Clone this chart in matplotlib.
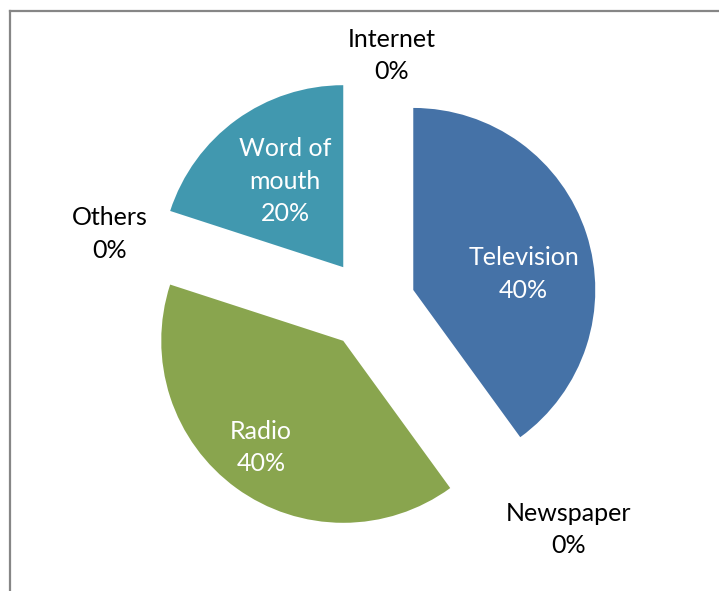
import numpy as np
import matplotlib
matplotlib.use("Agg")
import matplotlib.pyplot as plt
from matplotlib.lines import Line2D

# media sources, clockwise from 12 o'clock
sources = ["Television", "Newspaper", "Radio", "Others", "Word of\nmouth", "Internet"]
shares = [40, 0, 40, 0, 20, 0]
colours = ["#4572A7", "#AA4643", "#89A54E", "#71588F", "#4198AF", "#DB843D"]

# label placement around the pie centre: angle clockwise from top, distance in radii
label_angle = [79, 138.7, 217.3, 285.1, 325.4, 5]
label_dist = [0.86, 1.65, 0.99, 1.48, 0.82, 1.37]

W, H = 719, 591
fig = plt.figure(figsize=(W / 100, H / 100), dpi=100)
ax = fig.add_axes([0, 0, 1, 1])

cx, cy, rad = 370, H - 304, 182
# pie's explode offset is in data units, not radius fractions
wedges, _ = ax.pie(shares, colors=colours, startangle=90, counterclock=False,
                   explode=[0.25 * rad] * len(shares), center=(cx, cy), radius=rad,
                   wedgeprops=dict(linewidth=0))

for name, val, ang, d in zip(sources, shares, label_angle, label_dist):
    a = np.deg2rad(ang)
    x = cx + d * rad * np.sin(a)
    y = cy + d * rad * np.cos(a)
    col = "white" if val > 0 else "black"
    ax.text(x, y, f"{name}\n{val}%", ha="center", va="center", color=col,
            fontsize=18, family="Lato", linespacing=1.5, multialignment="center")

ax.set_xlim(0, W)
ax.set_ylim(0, H)
ax.set_aspect("equal")
ax.axis("off")

# chart-area border (left and top edges)
fig.add_artist(Line2D([9.5 / W, 9.5 / W], [0, 1 - 10.5 / H], transform=fig.transFigure,
                      color="#868686", lw=1.6))
fig.add_artist(Line2D([9.5 / W, 1], [1 - 10.5 / H, 1 - 10.5 / H], transform=fig.transFigure,
                      color="#868686", lw=1.6))

fig.savefig("out.png", dpi=100, facecolor="white")
